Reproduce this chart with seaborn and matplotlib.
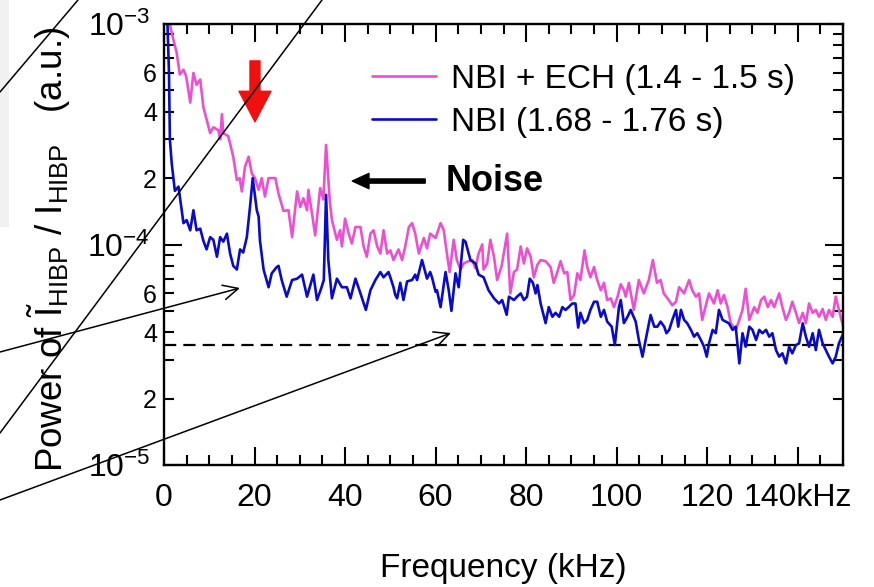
import numpy as np
import pandas as pd
import matplotlib
matplotlib.use("Agg")
import matplotlib.pyplot as plt
import seaborn as sns
from matplotlib.patches import Rectangle, FancyArrowPatch
from matplotlib.lines import Line2D
from matplotlib.ticker import FixedLocator, FixedFormatter, MultipleLocator

# ---------------- data ----------------
series_labels = ["NBI + ECH (1.4 - 1.5 s)", "NBI (1.68 - 1.76 s)"]
series_colors = ["#EE4FD2", "#0A0ACC"]

freq_ech = [0.5, 1.5, 2.8, 3.5, 4.3, 4.9, 5.8, 6.5, 7.2, 8.0, 8.7, 9.4, 10.2, 10.9, 12.0, 12.4, 12.8, 13.1,
            14.2, 15.3, 16.1, 16.7, 17.2, 17.9, 18.7, 19.4, 20.1, 20.9, 21.6, 22.3, 23.1, 24.2, 24.6, 25.3,
            26.4, 27.5, 28.3, 29.4, 30.1, 30.8, 31.6, 31.9, 32.7, 33.4, 34.5, 35.2, 35.8, 36.6, 37.1, 38.2,
            38.9, 39.3, 40.0, 40.8, 41.5, 42.3, 43.4, 44.1, 44.8, 45.6, 46.3, 47.1, 47.8, 48.5, 49.3, 50.0,
            50.7, 51.8, 52.6, 53.3, 54.1, 54.8, 55.5, 56.3, 57.4, 58.1, 58.8, 60.0, 61.1, 61.8, 62.5, 63.1,
            64.0, 64.7, 65.5, 66.2, 67.3, 68.1, 68.8, 69.5, 70.3, 70.6, 71.4, 72.1, 72.9, 73.6, 74.6, 75.8,
            76.5, 77.3, 78.0, 78.8, 79.5, 80.2, 81.0, 81.7, 82.5, 83.2, 84.3, 85.4, 86.1, 86.9, 87.6, 88.4,
            89.1, 89.8, 90.6, 91.3, 92.0, 92.9, 93.5, 94.2, 95.0, 95.7, 96.5, 97.2, 97.9, 98.7, 99.4, 100.2,
            100.9, 101.6, 102.0, 102.7, 103.8, 104.9, 106.0, 107.1, 108.0, 108.9, 109.7, 110.4, 111.5, 112.3,
            113.1, 113.8, 114.9, 116.0, 116.7, 117.5, 118.2, 118.9, 119.7, 120.4, 121.5, 122.3, 123.0, 123.7,
            124.5, 125.2, 125.9, 126.3, 127.1, 127.8, 128.5, 129.3, 130.4, 131.1, 131.9, 132.6, 133.4, 134.1,
            134.8, 135.9, 136.6, 137.4, 138.1, 138.8, 139.6, 140.3, 141.1, 141.8, 142.5, 143.3, 144.0, 144.7,
            145.5, 146.2, 146.9, 147.7, 148.4, 149.1, 150.1]
# power in units of 1e-4 a.u.
power_ech_e4 = [12.5, 9.5, 7.4, 5.9, 6.2, 5.8, 4.4, 6.0, 5.3, 5.6, 4.2, 3.7, 3.2, 3.4, 3.3, 3.0, 3.9, 3.2,
                3.1, 2.5, 1.96, 2.0, 1.74, 2.25, 2.5, 2.1, 2.0, 1.77, 2.0, 1.65, 2.0, 2.0, 2.0, 1.7,
                1.42, 1.43, 1.08, 1.74, 1.48, 1.62, 1.43, 1.77, 1.38, 1.10, 1.80, 1.60, 2.83, 1.60, 1.29, 1.05,
                1.16, 0.98, 1.31, 1.12, 1.01, 1.20, 1.20, 0.98, 0.88, 1.12, 1.16, 0.98, 0.91, 1.16, 0.91, 0.94,
                0.85, 0.95, 0.85, 0.98, 1.20, 1.25, 1.12, 0.91, 1.07, 0.96, 1.12, 1.07, 1.25, 1.16, 0.91, 0.75,
                1.05, 0.85, 0.77, 0.82, 0.84, 0.85, 0.78, 0.91, 1.00, 0.77, 0.82, 1.05, 0.88, 0.69, 0.80, 1.12,
                0.60, 0.75, 0.77, 0.98, 0.82, 0.96, 0.88, 0.71, 0.81, 0.85, 0.84, 0.79, 0.67, 0.75, 0.84, 0.74,
                0.75, 0.56, 0.59, 0.74, 0.69, 0.94, 0.79, 0.71, 0.79, 0.69, 0.62, 0.67, 0.56, 0.57, 0.52, 0.58,
                0.66, 0.62, 0.58, 0.67, 0.505, 0.69, 0.60, 0.69, 0.85, 0.67, 0.69, 0.60, 0.56, 0.53,
                0.55, 0.64, 0.60, 0.69, 0.62, 0.58, 0.60, 0.455, 0.53, 0.60, 0.54, 0.62, 0.54, 0.59,
                0.52, 0.44, 0.42, 0.41, 0.455, 0.505, 0.63, 0.455, 0.52, 0.49, 0.56, 0.58, 0.52, 0.56,
                0.52, 0.60, 0.52, 0.455, 0.49, 0.55, 0.49, 0.44, 0.49, 0.44, 0.54, 0.49, 0.505, 0.47,
                0.51, 0.455, 0.505, 0.47, 0.58, 0.505, 0.42]

freq_nbi = [0.6, 1.1, 1.3, 1.7, 2.4, 3.2, 3.5, 4.3, 5.0, 5.8, 6.5, 7.2, 8.0, 8.7, 9.4, 10.2, 10.9, 11.7,
            12.4, 13.1, 13.9, 14.6, 15.3, 16.1, 16.8, 17.5, 18.3, 19.0, 19.6, 20.5, 20.9, 21.2, 22.0, 23.1,
            23.8, 24.9, 25.3, 26.0, 27.1, 28.3, 29.4, 30.5, 31.6, 33.0, 33.8, 34.7, 35.3, 35.8, 36.3, 37.1,
            38.2, 39.3, 40.4, 41.2, 42.3, 43.4, 44.6, 45.6, 46.7, 47.8, 48.5, 49.6, 50.0, 50.7, 51.1, 51.5,
            52.2, 52.9, 53.7, 54.8, 55.5, 55.9, 57.0, 58.1, 58.8, 59.2, 60.0, 60.3, 61.1, 62.2, 62.9, 63.5,
            64.4, 65.1, 66.1, 66.6, 67.7, 68.8, 69.5, 70.6, 71.7, 72.9, 74.0, 74.7, 75.7, 76.2, 77.3, 78.0,
            78.8, 79.5, 80.2, 80.8, 81.5, 82.1, 82.5, 83.2, 84.3, 85.0, 85.8, 86.5, 87.3, 88.0, 88.7, 89.4,
            90.2, 90.9, 91.5, 92.0, 92.8, 93.5, 94.2, 95.0, 95.7, 96.5, 97.2, 97.9, 98.9, 99.6, 100.5, 100.9,
            101.6, 102.4, 103.1, 104.2, 104.9, 105.7, 106.4, 107.5, 108.3, 109.0, 109.7, 110.5, 111.0, 111.6,
            112.3, 113.1, 113.6, 114.2, 114.9, 115.6, 116.4, 117.1, 117.8, 118.6, 119.3, 119.9, 120.4, 121.2,
            121.9, 122.6, 123.4, 124.1, 124.8, 125.6, 126.3, 127.1, 127.8, 128.5, 129.3, 130.0, 130.8, 131.5,
            132.2, 133.0, 133.7, 134.4, 135.2, 135.9, 136.6, 137.4, 138.1, 138.8, 139.6, 140.3, 141.1, 141.8,
            142.5, 143.3, 144.0, 144.7, 145.5, 146.2, 146.9, 147.7, 148.4, 149.1, 150.1]
power_nbi_e4 = [13.0, 6.0, 3.0, 2.34, 1.75, 1.83, 1.65, 1.25, 1.29, 1.16, 1.43, 1.16, 1.18, 1.04, 0.95, 1.08, 1.05, 0.88,
                1.08, 1.03, 1.12, 0.91, 0.80, 0.77, 0.95, 0.92, 1.08, 1.48, 2.0, 1.43, 1.34, 1.04, 0.77, 0.64,
                0.74, 0.79, 0.80, 0.69, 0.58, 0.69, 0.70, 0.73, 0.58, 0.73, 0.56, 0.63, 0.69, 1.68, 0.85, 0.57,
                0.70, 0.64, 0.64, 0.57, 0.70, 0.60, 0.505, 0.62, 0.69, 0.75, 0.71, 0.75, 0.71, 0.64, 0.59, 0.57,
                0.67, 0.56, 0.68, 0.69, 0.73, 0.69, 0.85, 0.70, 0.75, 0.71, 0.61, 0.62, 0.52, 0.75, 0.62, 0.50,
                0.74, 0.64, 1.05, 1.03, 0.85, 0.82, 0.73, 0.71, 0.62, 0.57, 0.54, 0.56, 0.48, 0.58, 0.56, 0.58,
                0.60, 0.56, 0.58, 0.70, 0.67, 0.60, 0.655, 0.54, 0.44, 0.52, 0.47, 0.49, 0.47, 0.52, 0.505, 0.52,
                0.54, 0.54, 0.42, 0.49, 0.44, 0.455, 0.505, 0.55, 0.55, 0.47, 0.505, 0.447, 0.424, 0.35, 0.52, 0.56,
                0.44, 0.47, 0.505, 0.447, 0.369, 0.31, 0.369, 0.479, 0.424, 0.424, 0.447, 0.424, 0.396, 0.41,
                0.455, 0.505, 0.424, 0.505, 0.455, 0.439, 0.41, 0.382, 0.396, 0.369, 0.344, 0.31, 0.356, 0.41,
                0.396, 0.505, 0.455, 0.447, 0.439, 0.41, 0.424, 0.289, 0.396, 0.344, 0.424, 0.41, 0.369, 0.41,
                0.396, 0.41, 0.382, 0.396, 0.332, 0.31, 0.321, 0.289, 0.344, 0.321, 0.35, 0.356, 0.439, 0.382,
                0.344, 0.396, 0.332, 0.41, 0.356, 0.332, 0.31, 0.289, 0.31, 0.356, 0.396]

noise_level = 3.5e-5
x_ticks = [0, 20, 40, 60, 80, 100, 120, 140]
x_ticklabels = ["0", "20", "40", "60", "80", "100", "120", "140kHz"]
y_major = [1e-5, 1e-4, 1e-3]
y_major_labels = [r"$10^{-5}$", r"$10^{-4}$", r"$10^{-3}$"]
y_minor_mant = [2, 3, 4, 5, 6, 7, 8, 9]
y_minor_labelled = [2, 4, 6]
red_arrow_freq = 20.1

# ---------------- style ----------------
sns.set_style("white")
plt.rcParams["font.family"] = ["Liberation Sans", "DejaVu Sans"]
plt.rcParams["mathtext.fontset"] = "custom"
plt.rcParams["mathtext.rm"] = "Liberation Sans"
plt.rcParams["mathtext.it"] = "Liberation Sans:italic"
plt.rcParams["mathtext.bf"] = "Liberation Sans:bold"
for k in ["text.color", "axes.labelcolor", "xtick.color", "ytick.color", "axes.edgecolor"]:
    plt.rcParams[k] = "black"

fig = plt.figure(figsize=(8.74, 5.87), dpi=100)
ax = fig.add_axes([164 / 874, 1 - 465 / 587, (843 - 164) / 874, (465 - 24) / 587])

df = pd.concat([
    pd.DataFrame({"freq": freq_ech, "power": np.array(power_ech_e4) * 1e-4, "series": series_labels[0]}),
    pd.DataFrame({"freq": freq_nbi, "power": np.array(power_nbi_e4) * 1e-4, "series": series_labels[1]}),
])
sns.lineplot(data=df, x="freq", y="power", hue="series", hue_order=series_labels,
             palette=series_colors, estimator=None, sort=False, linewidth=1.9, ax=ax)

ax.axhline(noise_level, color="black", lw=1.6, dashes=(5.5, 3.2), zorder=1)

ax.set_yscale("log")
ax.set_xlim(0, 150)
ax.set_ylim(1e-5, 1e-3)

ax.xaxis.set_major_locator(FixedLocator(x_ticks))
ax.xaxis.set_major_formatter(FixedFormatter(x_ticklabels))
ax.xaxis.set_minor_locator(MultipleLocator(5))

ax.yaxis.set_major_locator(FixedLocator(y_major))
ax.yaxis.set_major_formatter(FixedFormatter(y_major_labels))
minor_pos = [m * d for d in (1e-5, 1e-4) for m in y_minor_mant]
minor_lab = [str(m) if m in y_minor_labelled else "" for d in (1e-5, 1e-4) for m in y_minor_mant]
ax.yaxis.set_minor_locator(FixedLocator(minor_pos))
ax.yaxis.set_minor_formatter(FixedFormatter(minor_lab))

for s in ax.spines.values():
    s.set_visible(True)
    s.set_color("black")
    s.set_linewidth(1.7)

ax.tick_params(which="both", direction="in", top=True, right=True, bottom=True, left=True,
               color="black", width=1.5, labelcolor="black")
ax.tick_params(which="major", length=13)
ax.tick_params(which="minor", length=7)
ax.tick_params(axis="x", which="major", labelsize=23, pad=13)
ax.tick_params(axis="y", which="major", labelsize=23, pad=10)
ax.tick_params(axis="y", which="minor", labelsize=18, pad=5)

ax.set_xlabel("Frequency (kHz)", fontsize=24, labelpad=29)
ax.set_ylabel(r"Power of $\tilde{\mathrm{I}}_{\mathrm{HIBP}}$ / I$_{\mathrm{HIBP}}$   (a.u.)", fontsize=26.5)
ax.yaxis.set_label_coords(-0.134, 0.49)

# legend
handles, labels = ax.get_legend_handles_labels()
for h in handles:
    h.set_linewidth(1.9)
ax.legend(handles, labels, loc="upper left", bbox_to_anchor=(372 / 874, 1 - 64 / 587),
          bbox_transform=fig.transFigure, frameon=False, fontsize=24, handlelength=1.92,
          handletextpad=0.45, labelspacing=0.36, borderpad=0, borderaxespad=0)

# red arrow marking the 20 kHz mode
ax.add_patch(FancyArrowPatch((red_arrow_freq, 6.8e-4), (red_arrow_freq, 3.6e-4),
                             arrowstyle="simple,head_length=1.1,head_width=1.15,tail_width=0.36",
                             mutation_scale=20, color="#F01010", shrinkA=0, shrinkB=0, zorder=5))

# "Noise" arrow and label
ax.add_patch(FancyArrowPatch((57.7, 1.94e-4), (41.6, 1.94e-4),
                             arrowstyle="simple,head_length=1.2,head_width=1.1,tail_width=0.3",
                             mutation_scale=10, color="black", shrinkA=0, shrinkB=0, zorder=5))
ax.text(62.2, 1.94e-4, "Noise", fontsize=26, fontweight="bold", va="center", ha="left")

# slide overlay lines (figure pixel coordinates)
def fp(px, py):
    return (px / 874, 1 - py / 587)

fig.add_artist(Rectangle(fp(0, 227), 9 / 874, 227 / 587, transform=fig.transFigure,
                         facecolor="#f1f1f1", edgecolor="none", zorder=-1))
for (a, b) in [((0, 92), (78, 0)), ((0, 433), (322, 0))]:
    (x0, y0), (x1, y1) = fp(*a), fp(*b)
    fig.add_artist(Line2D([x0, x1], [y0, y1], transform=fig.transFigure, color="black", lw=1.1, zorder=6))
for (a, b) in [((0, 352), (240, 288)), ((0, 500), (451, 333))]:
    fig.add_artist(FancyArrowPatch(fp(*a), fp(*b), transform=fig.transFigure,
                                   arrowstyle="->,head_length=0.45,head_width=0.22", mutation_scale=24,
                                   color="black", lw=1.1, shrinkA=0, shrinkB=0, zorder=6))

fig.savefig("out.png", dpi=100)
